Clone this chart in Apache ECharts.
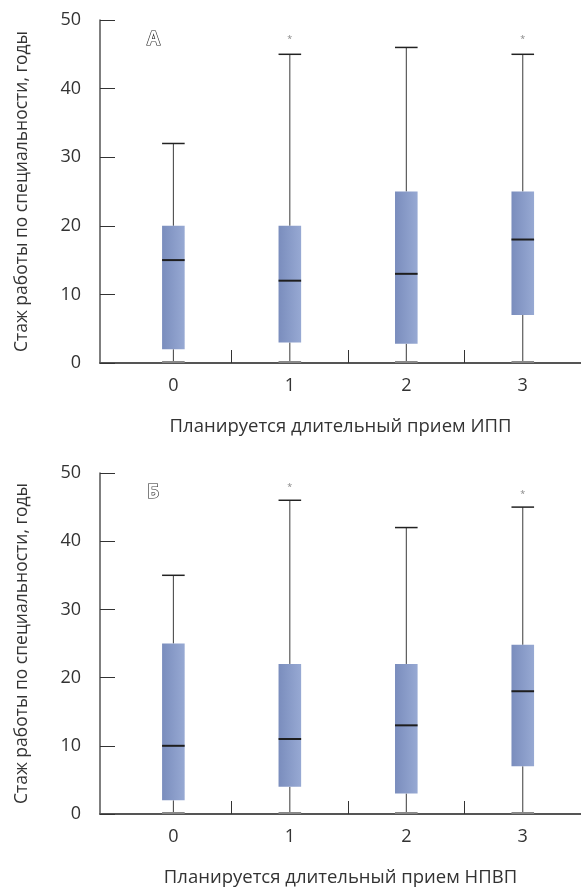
<!DOCTYPE html>
<html>
<head>
<meta charset="utf-8">
<script src="https://cdn.jsdelivr.net/npm/echarts@6/dist/echarts.min.js"></script>
<style>
  html, body { margin: 0; padding: 0; background: #fff; }
  #chart { width: 581px; height: 888px; }
</style>
</head>
<body>
<div id="chart"></div>
<script>
'use strict';

// группы (ось X)
var groups = [0, 1, 2, 3];
var yTicks = [0, 10, 20, 30, 40, 50];

// [min, Q1, median, Q3, max]
var boxesIPP = [
  [0, 2, 15, 20, 32],
  [0, 3, 12, 20, 45],
  [0, 2.8, 13, 25, 46],
  [0, 7, 18, 25, 45]
];
var boxesNPVP = [
  [0, 2, 10, 25, 35],
  [0, 4, 11, 22, 46],
  [0, 3, 13, 22, 42],
  [0, 7, 18, 24.8, 45]
];

// выбросы: [группа, значение]
var outliersIPP = [[1, 47.4], [3, 47.4]];
var outliersNPVP = [[1, 48.2], [3, 47.2]];

var yName = 'Стаж работы по специальности, годы';
var xNames = ['Планируется длительный прием ИПП', 'Планируется длительный прием НПВП'];
var panelLetters = ['А', 'Б'];

var font = '"Open Sans", "Noto Sans", sans-serif';
var axisColor = '#555';

function toItems(boxes) {
  return boxes.map(function (b, i) { return [groups[i]].concat(b); });
}

function renderBox(params, api) {
  var x = api.value(0);
  var pMin = api.coord([x, api.value(1)]);
  var pQ1 = api.coord([x, api.value(2)]);
  var pMed = api.coord([x, api.value(3)]);
  var pQ3 = api.coord([x, api.value(4)]);
  var pMax = api.coord([x, api.value(5)]);
  var w = api.size([1, 0])[0] * 0.194;
  var cx = pMed[0];
  var l = cx - w / 2;
  var lineStyle = { stroke: '#3a3a3a', lineWidth: 1 };
  return {
    type: 'group',
    children: [
      { type: 'line', shape: { x1: cx, y1: pMax[1], x2: cx, y2: pQ3[1] }, style: lineStyle },
      { type: 'line', shape: { x1: l, y1: pMax[1], x2: l + w, y2: pMax[1] }, style: { stroke: '#222', lineWidth: 1.5 } },
      { type: 'line', shape: { x1: cx, y1: pQ1[1], x2: cx, y2: pMin[1] }, style: lineStyle },
      { type: 'line', shape: { x1: l, y1: pMin[1] - 1, x2: l + w, y2: pMin[1] - 1 }, style: { stroke: '#888', lineWidth: 2 } },
      {
        type: 'rect',
        shape: { x: l, y: pQ3[1], width: w, height: pQ1[1] - pQ3[1] },
        style: {
          fill: new echarts.graphic.LinearGradient(0, 0, 1, 0, [
            { offset: 0, color: '#7a8dbd' },
            { offset: 1, color: '#97a9d3' }
          ])
        }
      },
      { type: 'line', shape: { x1: l, y1: pMed[1], x2: l + w, y2: pMed[1] }, style: { stroke: '#1e1e1e', lineWidth: 2 } }
    ]
  };
}

var grids = [
  { left: 100, right: 0, top: 20, height: 343 },
  { left: 100, right: 0, top: 473, height: 343 }
];

var xAxes = [], yAxes = [], series = [], titles = [];
[boxesIPP, boxesNPVP].forEach(function (boxes, k) {
  xAxes.push({
    gridIndex: k,
    type: 'value',
    min: -0.63,
    max: 3.5,
    name: xNames[k],
    nameLocation: 'middle',
    nameGap: 54,
    nameTextStyle: { fontFamily: font, fontSize: 18.5, color: '#333' },
    axisLine: { show: true, onZero: false, lineStyle: { color: axisColor, width: 2 } },
    axisTick: { show: true, inside: true, length: 13, customValues: [0.5, 1.5, 2.5], lineStyle: { color: '#333', width: 1 } },
    axisLabel: { customValues: groups, margin: 14, fontFamily: font, fontSize: 18, color: '#333' },
    splitLine: { show: false }
  });
  yAxes.push({
    gridIndex: k,
    type: 'value',
    min: yTicks[0],
    max: yTicks[yTicks.length - 1],
    interval: 10,
    name: yName,
    nameLocation: 'middle',
    nameGap: 69,
    nameTextStyle: { fontFamily: font, fontSize: 17.5, color: '#333' },
    axisLine: { show: true, onZero: false, lineStyle: { color: axisColor, width: 1.5 } },
    axisTick: { show: true, inside: true, length: 15, lineStyle: { color: '#333', width: 1 } },
    axisLabel: { margin: 19, fontFamily: font, fontSize: 18, color: '#333' },
    splitLine: { show: false }
  });
  series.push({
    type: 'custom',
    xAxisIndex: k,
    yAxisIndex: k,
    renderItem: renderBox,
    encode: { x: 0, y: [1, 2, 3, 4, 5] },
    data: toItems(boxes),
    silent: true
  });
  series.push({
    type: 'scatter',
    xAxisIndex: k,
    yAxisIndex: k,
    symbol: 'circle',
    symbolSize: 0,
    data: k === 0 ? outliersIPP : outliersNPVP,
    label: {
      show: true,
      formatter: '*',
      position: 'inside',
      fontFamily: font,
      fontSize: 9,
      color: '#666',
      offset: [0, 2]
    },
    silent: true
  });
  titles.push({
    text: panelLetters[k],
    left: 142,
    top: k === 0 ? 25 : 478,
    textStyle: {
      fontFamily: font,
      fontSize: 19,
      fontWeight: 'bold',
      color: '#fff',
      textBorderColor: '#222',
      textBorderWidth: 1.2
    }
  });
});

var chart = echarts.init(document.getElementById('chart'));
chart.setOption({
  animation: false,
  backgroundColor: '#fff',
  title: titles,
  grid: grids,
  xAxis: xAxes,
  yAxis: yAxes,
  series: series
});
</script>
</body>
</html>
